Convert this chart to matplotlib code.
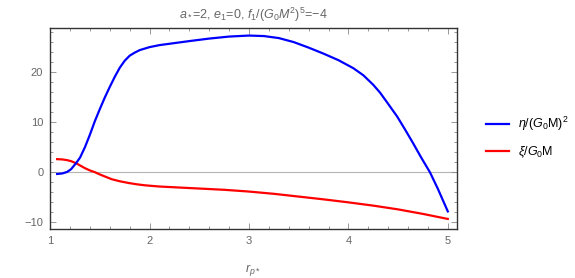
import matplotlib
matplotlib.use("Agg")
import matplotlib.pyplot as plt
from matplotlib.ticker import MultipleLocator

plt.rcParams["font.family"] = ["Liberation Sans", "DejaVu Sans"]
plt.rcParams["mathtext.fontset"] = "custom"
plt.rcParams["mathtext.rm"] = "Liberation Sans"
plt.rcParams["mathtext.it"] = "Liberation Sans:italic"

# values
r_eta = [1.07, 1.12, 1.17, 1.21, 1.26, 1.30, 1.35, 1.40, 1.45, 1.50, 1.55, 1.60,
         1.65, 1.70, 1.75, 1.80, 1.85, 1.90, 2.00, 2.10, 2.25, 2.40, 2.60, 2.80,
         3.00, 3.15, 3.30, 3.45, 3.60, 3.75, 3.90, 4.05, 4.15, 4.25, 4.32, 4.40,
         4.49, 4.57, 4.65, 4.73, 4.82, 4.90, 5.00]
eta = [-0.35, -0.25, 0.05, 0.6, 1.8, 2.9, 5.0, 7.5, 10.2, 12.6, 14.9, 17.0,
       19.0, 20.8, 22.2, 23.2, 23.8, 24.3, 24.9, 25.3, 25.7, 26.1, 26.6, 27.0,
       27.2, 27.1, 26.7, 25.9, 24.8, 23.6, 22.3, 20.7, 19.3, 17.4, 15.8, 13.6,
       11.1, 8.5, 5.8, 3.0, 0.0, -3.3, -7.8]

r_xi = [1.07, 1.12, 1.17, 1.21, 1.26, 1.30, 1.35, 1.40, 1.45, 1.50, 1.55, 1.62,
        1.70, 1.79, 1.87, 1.95, 2.10, 2.25, 2.50, 2.75, 3.00, 3.25, 3.50, 3.75,
        4.00, 4.25, 4.50, 4.75, 5.00]
xi = [2.6, 2.55, 2.4, 2.2, 1.8, 1.35, 0.8, 0.35, 0.0, -0.45, -0.85, -1.4,
      -1.8, -2.15, -2.4, -2.6, -2.85, -3.0, -3.25, -3.5, -3.85, -4.3, -4.85, -5.4,
      -6.0, -6.65, -7.4, -8.3, -9.3]

gray = "#666666"
minus = "\u2212"

fig = plt.figure(figsize=(5.75, 2.78), dpi=100)
ax = fig.add_axes([0.0873, 0.1745, 0.7067, 0.7265])

ax.axhline(0, color="#b4b4b4", lw=0.8, zorder=1)
l1, = ax.plot(r_eta, eta, color="#0000ff", lw=1.6, label=r"$\eta/(G_0\mathrm{M})^2$", zorder=3)
l2, = ax.plot(r_xi, xi, color="#ff0000", lw=1.6, label=r"$\xi/G_0\mathrm{M}$", zorder=2)

ax.set_xlim(1.0, 5.088)
ax.set_ylim(-11.4, 28.8)
ax.xaxis.set_major_locator(MultipleLocator(1))
ax.xaxis.set_minor_locator(MultipleLocator(0.2))
ax.yaxis.set_major_locator(MultipleLocator(10))
ax.yaxis.set_minor_locator(MultipleLocator(2))
ax.tick_params(which="both", direction="in", top=True, right=True,
               color="#888888", width=0.6, labelsize=8, labelcolor=gray)
ax.tick_params(which="major", length=4, pad=5)
ax.tick_params(which="minor", length=2.5)
ax.set_yticks([-10, 0, 10, 20])
ax.set_yticklabels([minus + "10", "0", "10", "20"])
for s in ax.spines.values():
    s.set_color("#333333")
    s.set_linewidth(1.0)

ax.set_title(r"$a_*$=2, $e_1$=0, $f_1/(G_0M^2)^5$=" + minus + "4",
             fontsize=9, color=gray, pad=6)
ax.set_xlabel(r"$r_{p*}$", fontsize=9, color=gray, labelpad=11)

fig.legend(handles=[l1, l2], loc="center left", bbox_to_anchor=(0.825, 0.505),
           frameon=False, fontsize=9, handlelength=1.9, handletextpad=0.7,
           labelspacing=0.9)

fig.savefig("out.png", dpi=100)
